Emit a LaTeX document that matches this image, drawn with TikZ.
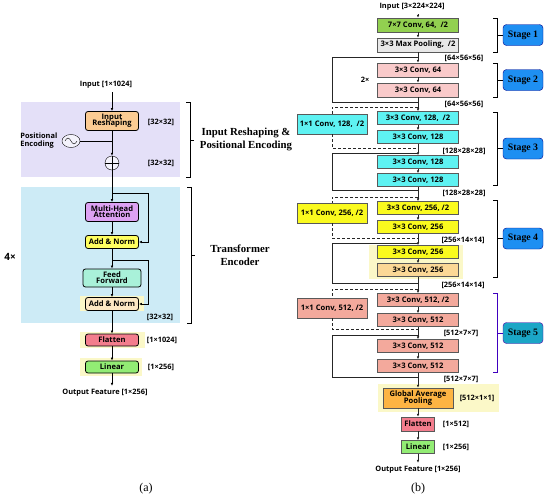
\documentclass[tikz,border=0pt]{standalone}
\usepackage{fontspec}
\setmainfont{Liberation Serif}
\setsansfont{Open Sans}
\usetikzlibrary{arrows.meta,positioning,shapes.geometric}
\definecolor{lavender}{HTML}{E4E0F8}
\definecolor{iceblue}{HTML}{CDEBF6}
\definecolor{reshapecol}{HTML}{FBCB93}
\definecolor{mhacol}{HTML}{DDA2F3}
\definecolor{normcol}{HTML}{FEFE60}
\definecolor{ffcol}{HTML}{A9F1D9}
\definecolor{norm2col}{HTML}{FCE8C4}
\definecolor{flatcol}{HTML}{F37D8D}
\definecolor{lincol}{HTML}{92EC74}
\definecolor{glowcol}{HTML}{FBF8C8}
\definecolor{convgreen}{HTML}{92D050}
\definecolor{poolgray}{HTML}{E8E8E8}
\definecolor{pinkc}{HTML}{F9CACA}
\definecolor{cyanc}{HTML}{5EF2F2}
\definecolor{yellowc}{HTML}{FAFA1E}
\definecolor{peachc}{HTML}{FBD896}
\definecolor{salmonc}{HTML}{F3A99C}
\definecolor{gapcol}{HTML}{FDB443}
\definecolor{stageblue}{HTML}{1E8FF2}
\definecolor{stageteal}{HTML}{1BA6C6}

\begin{document}
\begin{tikzpicture}[x=1pt,y=-1pt,>={Latex[length=3pt,width=2.6pt]},
  font=\sffamily\bfseries\fontsize{7.6}{8.4}\selectfont]
  \tikzstyle{blk}=[draw,rounded corners=2.5pt,line width=0.8pt,align=center,minimum width=53pt,minimum height=13pt,inner sep=1pt]
  \tikzstyle{conv}=[draw=black!65,align=center,minimum width=81pt,minimum height=13pt,inner sep=1pt]
  \tikzstyle{side}=[conv,minimum width=70pt,minimum height=20pt]
  \tikzstyle{dim}=[font=\sffamily\bfseries\fontsize{7.4}{8}\selectfont]
  \tikzstyle{stagebox}=[draw=blue!55!black,fill=stageblue,rounded corners=3.5pt,minimum width=40pt,minimum height=21pt,inner sep=1pt,font=\rmfamily\bfseries\fontsize{9.8}{10}\selectfont]
  \tikzstyle{bigcap}=[font=\rmfamily\bfseries\fontsize{10.8}{13}\selectfont,align=center]
  \tikzstyle{skip}=[line width=0.8pt,black!85]
  \tikzstyle{short}=[line width=0.8pt,black!85,dashed,dash pattern=on 3pt off 2pt]
  \useasboundingbox (0,0) rectangle (550,499);

  % (a) transformer branch
  \fill[lavender] (21,102) rectangle (180,177);
  \fill[iceblue] (21,187) rectangle (180,323);
  \node[dim] (inA) at (106,85) {Input [1×1024]};
  \node[blk,fill=reshapecol,minimum height=19pt] (resh) at (112,121) {Input\\[-2.2pt]Reshaping};
  \node[dim] (dA1) at (161,122) {[32×32]};
  \node[draw,circle,minimum size=14pt,inner sep=0pt,fill=white!60!lavender] (plus) at (112,163) {};
  \draw (plus.north) -- (plus.south) (plus.west) -- (plus.east);
  \node[dim] (dA2) at (161,163) {[32×32]};
  \node[draw,ellipse,minimum width=18pt,minimum height=13pt,inner sep=0pt,fill=white!60!lavender] (pe) at (71,141) {};
  \draw ([xshift=-6pt]pe.center) sin ++(3,-3) cos ++(3,3) sin ++(3,3) cos ++(3,-3);
  \node[dim,align=left,left=1pt of pe] (petxt) {Positional\\Encoding};
  \draw[->,line width=0.8pt] (inA.south -| resh) -- (resh);
  \draw[->,line width=0.8pt] (resh) -- (plus);
  \draw[line width=0.8pt] (pe.east) -- (pe.east -| resh.south);

  \node[blk,fill=mhacol,minimum height=19pt] (mha) at (112,212) {Multi-Head\\[-2.2pt]Attention};
  \node[blk,fill=normcol] (an1) at (112,242) {Add \& Norm};
  \node[blk,fill=ffcol,minimum width=58pt,minimum height=18pt] (ff) at (112,278) {Feed\\[-2.2pt]Forward};
  \fill[glowcol] (80,296) rectangle (144,311);
  \node[blk,fill=norm2col] (an2) at (112,304) {Add \& Norm};
  \node[dim] (dA3) at (160,317) {[32×32]};
  \coordinate (r1) at (112,193);
  \coordinate (r2) at (112,260);
  \draw[->,line width=0.8pt] (plus) -- (mha);
  \draw[->,line width=0.8pt] (mha) -- (an1);
  \draw[->,line width=0.8pt] (an1) -- (ff);
  \draw[->,line width=0.8pt] (ff) -- (an2);
  \draw[->,line width=0.8pt] (r1) -| (148,242) -- (an1.east);
  \draw[->,line width=0.8pt] (r2) -| (148,304) -- (an2.east);
  \node[font=\sffamily\bfseries\fontsize{10}{11}\selectfont] (rep) at (10,257) {4×};

  \draw[line width=0.8pt] (186,102) -- (190,102) -- (190,177) -- (186,177) (190,140) -- (194,140);
  \node[bigcap] (capRe) at (246,139) {Input Reshaping \&\\Positional Encoding};
  \draw[line width=0.8pt] (187,187) -- (191,187) -- (191,323) -- (187,323) (191,255) -- (195,255);
  \node[bigcap] (capTr) at (240,255) {Transformer\\Encoder};

  \fill[glowcol] (80,332) rectangle (145,348);
  \node[blk,fill=flatcol,minimum height=12pt] (flA) at (112,340) {Flatten};
  \node[dim] (dA4) at (162,340) {[1×1024]};
  \fill[glowcol] (80,358) rectangle (142,376);
  \node[blk,fill=lincol,minimum height=12pt] (linA) at (112,367) {Linear};
  \node[dim] (dA5) at (161,367) {[1×256]};
  \node[dim] (outA) at (105,393) {Output Feature [1×256]};
  \draw[->,line width=0.8pt] (an2) -- (flA);
  \draw[->,line width=0.8pt] (flA) -- (linA);
  \draw[->,line width=0.8pt] (linA) -- (linA |- outA.north);
  \node[font=\rmfamily\fontsize{12}{13}\selectfont] (capA) at (146,489) {(a)};

  % (b) resnet branch
  \node[dim] (inB) at (412,7) {Input [3×224×224]};
  \node[conv,fill=convgreen,minimum height=14pt] (c1) at (418,25) {7×7 Conv, 64,~~/2};
  \node[conv,fill=poolgray,minimum height=14pt] (mp) at (418,45) {3×3 Max Pooling,~~/2};
  \node[dim] (dB1) at (464,58) {[64×56×56]};
  \node[conv,fill=pinkc,minimum height=14pt] (s2a) at (418,70) {3×3 Conv, 64};
  \node[conv,fill=pinkc,minimum height=14pt] (s2b) at (418,90) {3×3 Conv, 64};
  \node[dim] (twice) at (365,80) {2×};
  \node[dim] (dB2) at (464,104) {[64×56×56]};

  \node[side,fill=cyanc] (s3s) at (332,124) {1×1 Conv, 128,~~/2};
  \node[conv,fill=cyanc] (s3a) at (418,118) {3×3 Conv, 128,~~/2};
  \node[conv,fill=cyanc] (s3b) at (418,137) {3×3 Conv, 128};
  \node[dim] (dB3) at (464,151) {[128×28×28]};
  \node[conv,fill=cyanc] (s3c) at (418,162) {3×3 Conv, 128};
  \node[conv,fill=cyanc] (s3d) at (418,180) {3×3 Conv, 128};
  \node[dim] (dB4) at (464,193) {[128×28×28]};

  \node[side,fill=yellowc] (s4s) at (332,213) {1×1 Conv, 256, /2};
  \node[conv,fill=yellowc] (s4a) at (418,208) {3×3 Conv, 256, /2};
  \node[conv,fill=yellowc] (s4b) at (418,227) {3×3 Conv, 256};
  \node[dim] (dB5) at (463,240) {[256×14×14]};
  \fill[glowcol] (369,245) rectangle (463,279);
  \node[conv,fill=yellowc] (s4c) at (418,252) {3×3 Conv, 256};
  \node[conv,fill=peachc] (s4d) at (418,270) {3×3 Conv, 256};
  \node[dim] (dB6) at (463,285) {[256×14×14]};

  \node[side,fill=salmonc] (s5s) at (332,308) {1×1 Conv, 512, /2};
  \node[conv,fill=salmonc] (s5a) at (418,300) {3×3 Conv, 512, /2};
  \node[conv,fill=salmonc] (s5b) at (418,320) {3×3 Conv, 512};
  \node[dim] (dB7) at (461,333) {[512×7×7]};
  \node[conv,fill=salmonc] (s5c) at (418,346) {3×3 Conv, 512};
  \node[conv,fill=salmonc] (s5d) at (418,366) {3×3 Conv, 512};
  \node[dim] (dB8) at (461,379) {[512×7×7]};

  \fill[glowcol] (378,384) rectangle (499,412);
  \node[conv,fill=gapcol,minimum width=70pt,minimum height=20pt] (gap) at (418,398) {Global Average\\[-2.2pt]Pooling};
  \node[dim] (dB9) at (477,398) {[512×1×1]};
  \node[conv,fill=flatcol,minimum width=33pt,minimum height=14pt] (flB) at (418,424) {Flatten};
  \node[dim] (dB10) at (456,424) {[1×512]};
  \node[conv,fill=lincol,minimum width=33pt,minimum height=13pt] (linB) at (418,447) {Linear};
  \node[dim] (dB11) at (456,447) {[1×256]};
  \node[dim] (outB) at (418,470) {Output Feature [1×256]};
  \node[font=\rmfamily\fontsize{12}{13}\selectfont] (capB) at (418,489) {(b)};

  % main line
  \draw[->,skip] (c1 |- inB.south) -- (c1);
  \foreach \a/\b in {c1/mp,mp/s2a,s2a/s2b,s2b/s3a,s3a/s3b,s3b/s3c,s3c/s3d,s3d/s4a,s4a/s4b,s4b/s4c,s4c/s4d,s4d/s5a,s5a/s5b,s5b/s5c,s5c/s5d,s5d/gap,gap/flB,flB/linB}
    \draw[->,skip] (\a) -- (\b);
  \draw[->,skip] (linB) -- (outB);

  % identity shortcuts
  \coordinate (k2) at (418,57);  \coordinate (j2) at (418,102);
  \coordinate (k3) at (418,153); \coordinate (j3) at (418,190);
  \coordinate (k4) at (418,243); \coordinate (j4) at (418,283);
  \coordinate (k5) at (418,335); \coordinate (j5) at (418,377);
  \foreach \k/\j in {k2/j2,k3/j3,k4/j4,k5/j5}
    \draw[skip] (\k) -- ++(-86,0) |- (\j);

  % projection shortcuts
  \coordinate (d3) at (418,107); \coordinate (e3) at (418,148);
  \coordinate (d4) at (418,197); \coordinate (e4) at (418,238);
  \coordinate (d5) at (418,289); \coordinate (e5) at (418,329);
  \foreach \d/\s/\e in {d3/s3s/e3,d4/s4s/e4,d5/s5s/e5}{
    \draw[short] (\d) -| (\s.north);
    \draw[short] (\s.south) |- (\e);
  }

  % stages
  \foreach \t/\b/\n in {18/52/1,63/97/2,112/185/3,200/277/4}{
    \draw[line width=0.8pt] (493,\t) -- (497,\t) -- (497,\b) -- (493,\b)
      (497,{(\t+\b)/2}) -- (503,{(\t+\b)/2});
    \node[stagebox] (st\n) at (523,{(\t+\b)/2}) {Stage \n};
  }
  \draw[line width=0.8pt,blue!50!violet] (493,293) -- (497,293) -- (497,372) -- (493,372) (497,333) -- (503,333);
  \node[stagebox,fill=stageteal,draw=violet!70!blue] (st5) at (523,333) {Stage 5};
\end{tikzpicture}
\end{document}
